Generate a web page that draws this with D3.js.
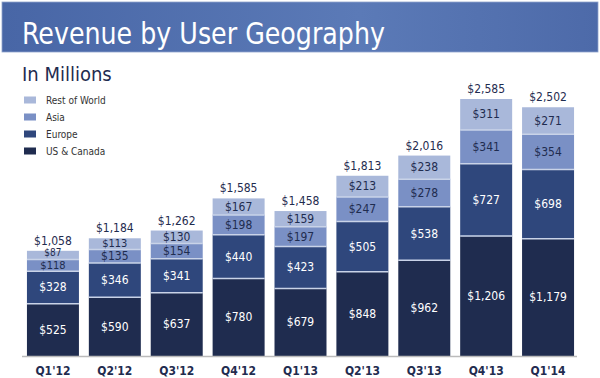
<!DOCTYPE html>
<html><head><meta charset="utf-8">
<script src="https://cdn.jsdelivr.net/npm/d3@7"></script>
<style>
html,body{margin:0;padding:0;background:#fff;}
svg{display:block;font-family:"DejaVu Sans Condensed","DejaVu Sans",sans-serif;}
</style></head>
<body>
<svg id="c" width="600" height="378"></svg>
<script>
const categories = ["Q1'12","Q2'12","Q3'12","Q4'12","Q1'13","Q2'13","Q3'13","Q4'13","Q1'14"];
const usCanada = [525,590,637,780,679,848,962,1206,1179];
const europe = [328,346,341,440,423,505,538,727,698];
const asia = [118,135,154,198,197,247,278,341,354];
const restOfWorld = [87,113,130,167,159,213,238,311,271];
const totals = [1058,1184,1262,1585,1458,1813,2016,2585,2502];
const seriesNames = ["US & Canada","Europe","Asia","Rest of World"];
const seriesColors = ["#1f2c4f","#2f477c","#7a90c5","#a9b8da"];
const labelColors = ["#ffffff","#ffffff","#1f2c4f","#1f2c4f"];

const svg = d3.select("#c");
const defs = svg.append("defs");
const grad = defs.append("linearGradient").attr("id","tg").attr("x1","0").attr("x2","1").attr("y1","0").attr("y2","0");
grad.append("stop").attr("offset","0").attr("stop-color","#4866a6");
grad.append("stop").attr("offset","0.6").attr("stop-color","#5b7ab7");
grad.append("stop").attr("offset","1").attr("stop-color","#4d6aa9");

svg.append("rect").attr("x",2).attr("y",2).attr("width",596).attr("height",50).attr("fill","url(#tg)").attr("stroke","#8fa3cc").attr("stroke-width",0.8);
svg.append("text").attr("x",22).attr("y",44).attr("fill","#fff").attr("font-size",30)
  .attr("textLength",363).attr("lengthAdjust","spacingAndGlyphs").text("Revenue by User Geography");
svg.append("text").attr("x",22).attr("y",81).attr("fill","#1f2c4f").attr("font-size",20).text("In Millions");

// legend
const legendOrder = [3,2,1,0];
legendOrder.forEach((si,i)=>{
  const cy = 100 + i*17;
  svg.append("rect").attr("x",24).attr("y",cy-3.5).attr("width",12).attr("height",7).attr("fill",seriesColors[si]);
  svg.append("text").attr("x",46).attr("y",cy).attr("dominant-baseline","central").attr("font-size",10).attr("fill","#333").text(seriesNames[si]);
});

const rows = categories.map((c,i)=>({cat:c, s0:usCanada[i], s1:europe[i], s2:asia[i], s3:restOfWorld[i]}));
const stack = d3.stack().keys(["s0","s1","s2","s3"])(rows);

const x = d3.scaleBand().domain(categories).range([22,579]).paddingInner(0.16).paddingOuter(0.08);
const y = d3.scaleLinear().domain([0, d3.max(totals)]).range([356, 99]);

stack.forEach((layer,si)=>{
  svg.append("g").selectAll("rect").data(layer).join("rect")
    .attr("x",d=>x(d.data.cat)).attr("width",x.bandwidth())
    .attr("y",d=>y(d[1])).attr("height",d=>y(d[0])-y(d[1]))
    .attr("fill",seriesColors[si]);
});
// separators
stack.slice(1).forEach(layer=>{
  svg.append("g").selectAll("line").data(layer).join("line")
    .attr("x1",d=>x(d.data.cat)).attr("x2",d=>x(d.data.cat)+x.bandwidth())
    .attr("y1",d=>y(d[0])).attr("y2",d=>y(d[0]))
    .attr("stroke","#c9d3e8").attr("stroke-width",1.5);
});
// labels (slightly smaller / nudged in very thin segments so neighbours do not collide)
stack.forEach((layer,si)=>{
  svg.append("g").selectAll("text").data(layer).join("text")
    .attr("x",d=>x(d.data.cat)+x.bandwidth()/2)
    .attr("y",d=>{
      const h = y(d[0])-y(d[1]);
      const c = (y(d[0])+y(d[1]))/2;
      return (si===3 && h<10) ? c-2.5 : c;
    })
    .attr("text-anchor","middle").attr("dominant-baseline","central")
    .attr("font-size",d=>{const h=y(d[0])-y(d[1]); return h<10 ? 10 : (h<12.5 ? 11 : 12);})
    .attr("fill",labelColors[si])
    .text(d=>"$"+d3.format(",")(d[1]-d[0]));
});
// totals
svg.append("g").selectAll("text").data(categories).join("text")
  .attr("x",c=>x(c)+x.bandwidth()/2)
  .attr("y",(c,i)=>y(totals[i])-6)
  .attr("text-anchor","middle").attr("font-size",12).attr("fill","#1f2c4f")
  .text((c,i)=>"$"+d3.format(",")(totals[i]));

// axis
const axis = svg.append("g").attr("transform","translate(0,356)").call(d3.axisBottom(x).tickSize(0).tickPadding(10));
axis.select(".domain").attr("stroke","#bbbbbb").attr("stroke-width",1.5).attr("d","M22,0.5H577");
axis.selectAll("text").attr("font-size",12).attr("font-weight","bold").attr("fill","#1f2c4f").attr("font-family","\"DejaVu Sans Condensed\",\"DejaVu Sans\",sans-serif");
</script>
</body></html>
